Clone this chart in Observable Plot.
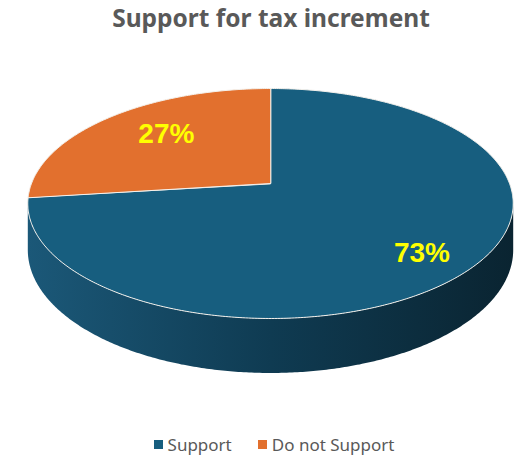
<!DOCTYPE html>
<html><head><meta charset="utf-8">
<script src="https://cdn.jsdelivr.net/npm/d3@7"></script>
<script src="https://cdn.jsdelivr.net/npm/@observablehq/plot@0.6"></script>
<style>
body{margin:0;background:#fff;width:516px;height:456px;overflow:hidden;font-family:"Noto Sans",sans-serif}
#title{height:40px;box-sizing:border-box;padding-left:26px;text-align:center;font-weight:700;font-size:24.5px;color:#595959;line-height:36px;white-space:nowrap}
#chart{height:375px}
#legend{height:41px;box-sizing:border-box;padding-left:32px;padding-top:18px;display:flex;justify-content:center;align-items:center;gap:26px;font-size:17px;color:#595959}
.item{display:flex;align-items:center;gap:5px}
.sw{width:9px;height:9px;display:inline-block}
</style></head><body>
<div id="title">Support for tax increment</div>
<div id="chart"></div>
<div id="legend"></div>
<script>
// ---- data ----
const categories = ["Support", "Do not Support"];
const shares = [73, 27];
const labels = ["73%", "27%"];
const colors = ["#175E7F", "#E2702E"];

// ---- geometry (3D perspective pie) ----
const cx = 270, cy = 183, A = 239, B = 111.5, K = 0.174, D = 45, TOP = 40, H = 375;
function proj(theta, r, z) {
  const u = r * Math.sin(theta), v = r * Math.cos(theta), w = 1 + K * v;
  return [cx + A * u / w, cy - B * v / w + D * z / w];
}
const table = categories.map((c, i) => ({cat: c, share: shares[i], label: labels[i]}));
const arcs = d3.pie().sort(null).value(d => d.share)(table);

const topPts = [];
for (const a of arcs) {
  const c = proj(0, 0, 0);
  topPts.push({cat: a.data.cat, x: c[0], y: c[1]});
  const n = Math.max(8, Math.ceil((a.endAngle - a.startAngle) / 0.01));
  for (let i = 0; i <= n; i++) {
    const t = a.startAngle + (a.endAngle - a.startAngle) * i / n;
    const p = proj(t, 1, 0);
    topPts.push({cat: a.data.cat, x: p[0], y: p[1]});
  }
}
const t1 = Math.acos(-K), t2 = 2 * Math.PI - t1;
const sidePts = [];
const ns = 300;
for (let i = 0; i <= ns; i++) { const t = t1 + (t2 - t1) * i / ns; const p = proj(t, 1, 0); sidePts.push({x: p[0], y: p[1]}); }
for (let i = ns; i >= 0; i--) { const t = t1 + (t2 - t1) * i / ns; const p = proj(t, 1, 1); sidePts.push({x: p[0], y: p[1]}); }

const labelPts = arcs.map(a => {
  const m = (a.startAngle + a.endAngle) / 2;
  const p = proj(m, 0.7, 0);
  return {cat: a.data.cat, label: a.data.label, x: p[0], y: p[1]};
});

const xl = proj(t2, 1, 0)[0], xr = proj(t1, 1, 0)[0];

const defs = () => {
  const d = d3.create("svg:defs");
  const g = d.append("linearGradient").attr("id", "sideGrad")
    .attr("gradientUnits", "userSpaceOnUse").attr("x1", xl).attr("x2", xr).attr("y1", 0).attr("y2", 0);
  g.append("stop").attr("offset", 0).attr("stop-color", "#1B5878");
  g.append("stop").attr("offset", 0.5).attr("stop-color", "#0F3B52");
  g.append("stop").attr("offset", 1).attr("stop-color", "#0A2431");
  return d.node();
};

const chart = Plot.plot({
  width: 516, height: H,
  margin: 0,
  x: {domain: [0, 516], range: [0, 516], axis: null},
  y: {domain: [TOP, TOP + H], range: [0, H], axis: null},
  color: {domain: categories, range: colors},
  style: {background: "white", overflow: "visible"},
  marks: [
    defs,
    Plot.line(sidePts, {x: "x", y: "y", fill: "url(#sideGrad)", stroke: "none", curve: "linear-closed"}),
    Plot.line(topPts, {x: "x", y: "y", z: "cat", fill: "cat", stroke: "#F4F1EC", strokeWidth: 1, curve: "linear-closed"}),
    Plot.text(labelPts, {filter: d => d.cat === "Support", x: "x", y: "y", text: "label", dx: 15, dy: 13, fill: "#FFFF00", fontSize: 28, fontWeight: "bold", fontFamily: "Liberation Sans, Arial, sans-serif"}),
    Plot.text(labelPts, {filter: d => d.cat !== "Support", x: "x", y: "y", text: "label", dx: 12, dy: -2, fill: "#FFFF00", fontSize: 28, fontWeight: "bold", fontFamily: "Liberation Sans, Arial, sans-serif"})
  ]
});
document.getElementById("chart").appendChild(chart);

const leg = document.getElementById("legend");
categories.forEach((c, i) => {
  const it = document.createElement("span"); it.className = "item";
  const sw = document.createElement("span"); sw.className = "sw"; sw.style.background = colors[i];
  const tx = document.createElement("span"); tx.textContent = c;
  it.appendChild(sw); it.appendChild(tx); leg.appendChild(it);
});
</script>
</body></html>
